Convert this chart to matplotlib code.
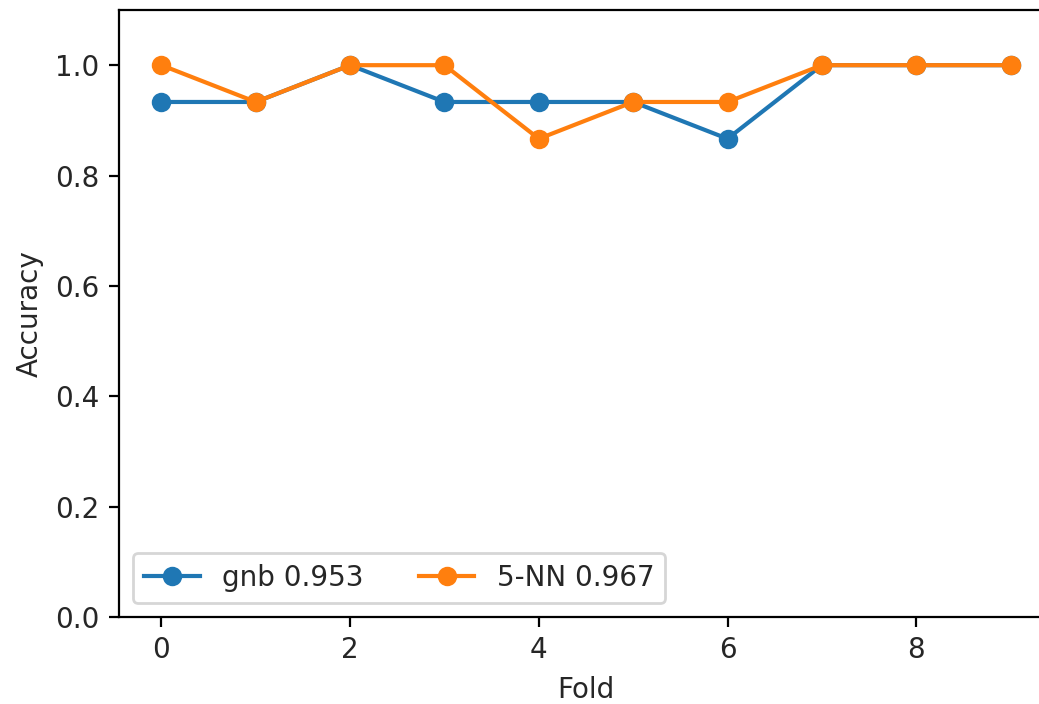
import matplotlib
matplotlib.use("Agg")
import matplotlib.pyplot as plt
import numpy as np

folds = list(range(10))
gnb_acc = [14/15, 14/15, 1.0, 14/15, 14/15, 14/15, 13/15, 1.0, 1.0, 1.0]
knn_acc = [1.0, 14/15, 1.0, 1.0, 13/15, 14/15, 14/15, 1.0, 1.0, 1.0]
gnb_label = "gnb %.3f" % np.mean(gnb_acc)
knn_label = "5-NN %.3f" % np.mean(knn_acc)

plt.rcParams["text.color"] = "#262626"
plt.rcParams["axes.labelcolor"] = "#262626"
plt.rcParams["xtick.labelcolor"] = "#262626"
plt.rcParams["ytick.labelcolor"] = "#262626"

dpi = 200
fig = plt.figure(figsize=(1039/dpi, 704/dpi), dpi=dpi)
# the right spine falls outside the picture in the reference
ax = fig.add_axes([119/1039, 1 - 617/704, 934/1039, 607/704])

ax.plot(folds, gnb_acc, "o-", label=gnb_label)
ax.plot(folds, knn_acc, "o-", label=knn_label)
ax.set_ylim(0, 1.1)
ax.set_xlabel("Fold")
ax.set_ylabel("Accuracy")
ax.legend(loc="lower left", ncol=2)

fig.savefig("out.png", dpi=dpi)
